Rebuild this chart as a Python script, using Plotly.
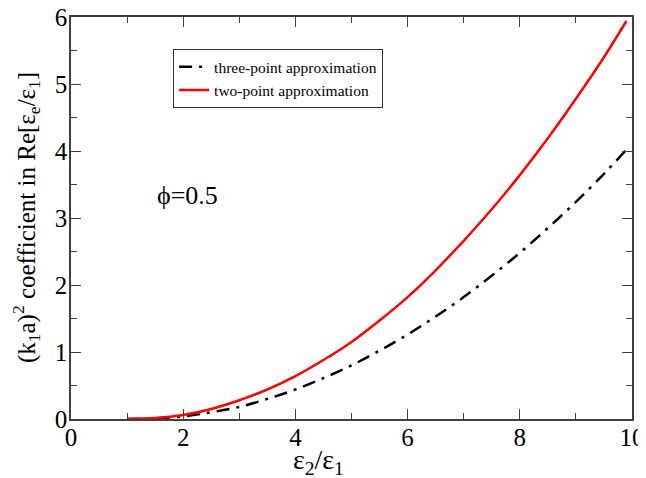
import plotly.graph_objects as go

# values
eps_ratio = [1, 1.5, 2, 2.5, 3, 3.5, 4, 4.5, 5, 5.5, 6, 6.5, 7, 7.5, 8, 8.5, 9, 9.5, 9.9]
two_point = [0.0, 0.015, 0.06, 0.15, 0.28, 0.44, 0.64, 0.88, 1.15, 1.47, 1.82, 2.22, 2.66,
             3.13, 3.64, 4.19, 4.78, 5.40, 5.94]
three_point = [0.0, 0.01, 0.04, 0.10, 0.18, 0.30, 0.44, 0.61, 0.80, 1.02, 1.26, 1.53, 1.82,
               2.14, 2.48, 2.85, 3.24, 3.66, 4.02]

x_ticks = [0, 2, 4, 6, 8, 10]
y_ticks = [0, 1, 2, 3, 4, 5, 6]

FONT = "Liberation Serif, Times New Roman, serif"
AXIS = "#404040"

fig = go.Figure()
fig.add_trace(go.Scatter(
    x=eps_ratio, y=three_point, mode="lines", name="three-point approximation",
    line=dict(color="black", width=2.5, dash="13px,7px,3px,7px", shape="spline"),
))
fig.add_trace(go.Scatter(
    x=eps_ratio, y=two_point, mode="lines", name="two-point approximation",
    line=dict(color="#ff0000", width=2.5, shape="spline"),
))

fig.add_annotation(x=2.07, y=3.34, text="\u03d5=0.5", showarrow=False,
                   font=dict(size=26, family=FONT, color="black"))
# axis titles as annotations so they sit where the reference has them
fig.add_annotation(x=0.442, y=-0.058, xref="paper", yref="paper", yanchor="top",
                   text="\u03b5<sub>2</sub>/\u03b5<sub>1</sub>", showarrow=False,
                   font=dict(size=28, family=FONT, color="black"))
fig.add_annotation(x=-0.08, y=0.5, xref="paper", yref="paper", textangle=-90,
                   xanchor="center", yanchor="middle", showarrow=False,
                   text="(k<sub>1</sub>a)<sup>2</sup> coefficient in Re[\u03b5<sub>e</sub>/\u03b5<sub>1</sub>]",
                   font=dict(size=25, family=FONT, color="black"))

axis_common = dict(
    showline=True, linecolor=AXIS, linewidth=1.5, mirror="allticks",
    ticks="inside", ticklen=10, tickwidth=1.2, tickcolor=AXIS,
    showgrid=False, zeroline=False, automargin=False, ticklabeloverflow="allow",
    tickfont=dict(size=25, family=FONT, color="black"),
)

# page body has an 8px margin, so the figure is a bit smaller than the window
fig.update_layout(
    width=638, height=470,
    margin=dict(l=63, r=14, t=9, b=59),
    plot_bgcolor="white", paper_bgcolor="white",
    font=dict(family=FONT, color="black"),
    showlegend=True,
    legend=dict(x=0.182, y=0.92, xanchor="left", yanchor="top",
                bgcolor="white", bordercolor="#333333", borderwidth=1,
                font=dict(size=15.5, family=FONT), tracegroupgap=0),
    xaxis=dict(range=[0, 10], tickvals=x_ticks, ticklabelstandoff=-5,
               minor=dict(ticks="inside", ticklen=6, dtick=1, tickcolor=AXIS), **axis_common),
    yaxis=dict(range=[0, 6], tickvals=y_ticks, ticklabelstandoff=-3,
               minor=dict(ticks="inside", ticklen=6, dtick=0.5, tickcolor=AXIS),
               **axis_common),
)

fig.write_html("out.html")
